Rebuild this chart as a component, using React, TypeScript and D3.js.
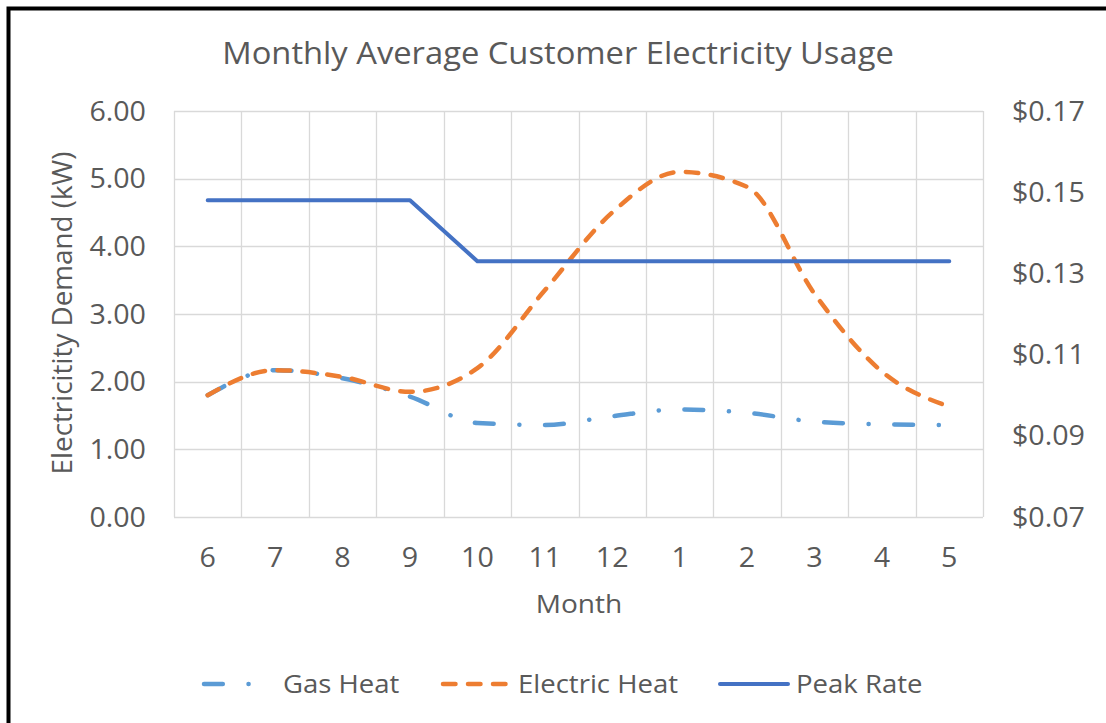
import React, { useEffect, useRef } from "react";
import * as d3 from "d3";

const W = 1106;
const H = 723;
const margin = { top: 111, right: 123, bottom: 206, left: 174 };

const months = ["6", "7", "8", "9", "10", "11", "12", "1", "2", "3", "4", "5"];
const gasHeat = [1.8, 2.17, 2.05, 1.78, 1.39, 1.36, 1.49, 1.59, 1.54, 1.41, 1.37, 1.36];
const electricHeat = [1.8, 2.17, 2.07, 1.85, 2.2, 3.35, 4.5, 5.1, 4.88, 3.3, 2.15, 1.63];
const peakRate = [0.148, 0.148, 0.148, 0.148, 0.133, 0.133, 0.133, 0.133, 0.133, 0.133, 0.133, 0.133];
const leftTicks = [0, 1, 2, 3, 4, 5, 6];
const rightTicks = [0.07, 0.09, 0.11, 0.13, 0.15, 0.17];

const FONT = "'Open Sans', sans-serif";
const TEXT = "#595959";
const GRID = "#D9D9D9";
const C_GAS = "#5B9BD5";
const C_ELEC = "#ED7D31";
const C_PEAK = "#4472C4";
const DASH_GAS = "18.8 25.7 0.1 25.6";
const DASH_ELEC = "12.5 12.5";
const SX = 1.08; // the source picture is a bit wider than tall

const App = () => {
  const svgRef = useRef<SVGSVGElement>(null);

  useEffect(() => {
    const svg = d3.select(svgRef.current);
    svg.selectAll("*").remove();

    const x = d3
      .scaleBand()
      .domain(months)
      .range([margin.left, W - margin.right]);
    const cx = (m: string) => (x(m) as number) + x.bandwidth() / 2;
    const y = d3.scaleLinear().domain([0, 6]).range([H - margin.bottom, margin.top]);
    const y2 = d3.scaleLinear().domain([0.07, 0.17]).range([H - margin.bottom, margin.top]);

    svg.append("rect").attr("width", W).attr("height", H).attr("fill", "#fff");

    // frame (only top and left show in the crop)
    svg
      .append("path")
      .attr("d", `M8.5,${H} V8.5 H${W}`)
      .attr("fill", "none")
      .attr("stroke", "#000")
      .attr("stroke-width", 4);

    // grid
    const grid = svg.append("g");
    grid
      .selectAll(".hg")
      .data(leftTicks)
      .enter()
      .append("line")
      .attr("x1", margin.left)
      .attr("x2", W - margin.right)
      .attr("y1", (d) => Math.round(y(d)) + 0.5)
      .attr("y2", (d) => Math.round(y(d)) + 0.5)
      .attr("stroke", GRID)
      .attr("stroke-width", 1.3);
    const edges = [...months.map((m) => x(m) as number), W - margin.right];
    grid
      .selectAll(".vg")
      .data(edges)
      .enter()
      .append("line")
      .attr("x1", (d) => Math.round(d) + 0.5)
      .attr("x2", (d) => Math.round(d) + 0.5)
      .attr("y1", margin.top)
      .attr("y2", H - margin.bottom)
      .attr("stroke", GRID)
      .attr("stroke-width", 1.3);

    // horizontal text helper, stretched a little in x
    const label = (g: any, tx: number, ty: number, size: number, anchor: string, txt: string) =>
      g
        .append("text")
        .attr("transform", `translate(${tx},${ty}) scale(${SX},1)`)
        .attr("dy", "0.36em")
        .attr("text-anchor", anchor)
        .attr("font-size", size)
        .text(txt);

    const labels = svg.append("g").attr("font-family", FONT).attr("fill", TEXT);
    leftTicks.forEach((d) => label(labels, 146, y(d), 26.5, "end", d3.format(".2f")(d)));
    rightTicks.forEach((d) => label(labels, 1012, y2(d), 26.5, "start", "$" + d3.format(".2f")(d)));
    months.forEach((d) => label(labels, cx(d), 557, 26.5, "middle", d));

    label(labels, 558, 53, 30.3, "middle", "Monthly Average Customer Electricity Usage");
    label(labels, 579, 604, 26, "middle", "Month");
    labels
      .append("text")
      .attr("transform", `translate(62,${(margin.top + H - margin.bottom) / 2 - 1}) rotate(-90)`)
      .attr("dy", "0.36em")
      .attr("text-anchor", "middle")
      .attr("font-size", 27.8)
      .text("Electricitity Demand (kW)");

    // series
    const smooth = d3
      .line<number>()
      .x((d, i) => cx(months[i]))
      .y((d) => y(d))
      .curve(d3.curveMonotoneX);
    const straight = d3
      .line<number>()
      .x((d, i) => cx(months[i]))
      .y((d) => y2(d));

    const series = svg
      .append("g")
      .attr("fill", "none")
      .attr("stroke-linecap", "round")
      .attr("stroke-linejoin", "round");
    series
      .append("path")
      .attr("d", smooth(gasHeat))
      .attr("stroke", C_GAS)
      .attr("stroke-width", 4.5)
      .attr("stroke-dasharray", DASH_GAS);
    series
      .append("path")
      .attr("d", smooth(electricHeat))
      .attr("stroke", C_ELEC)
      .attr("stroke-width", 4.5)
      .attr("stroke-dasharray", DASH_ELEC);
    series
      .append("path")
      .attr("d", straight(peakRate))
      .attr("stroke", C_PEAK)
      .attr("stroke-width", 4);

    // legend
    const legend = [
      { name: "Gas Heat", color: C_GAS, dash: DASH_GAS, x0: 204, x1: 253, tx: 283, w: 4.5 },
      { name: "Electric Heat", color: C_ELEC, dash: DASH_ELEC, x0: 443, x1: 511, tx: 518, w: 4.5 },
      { name: "Peak Rate", color: C_PEAK, dash: null, x0: 720, x1: 788, tx: 796, w: 4 },
    ];
    const lg = svg.append("g").attr("font-family", FONT).attr("fill", TEXT);
    legend.forEach((l) => {
      lg.append("line")
        .attr("x1", l.x0)
        .attr("x2", l.x1)
        .attr("y1", 684)
        .attr("y2", 684)
        .attr("stroke", l.color)
        .attr("stroke-width", l.w)
        .attr("stroke-linecap", "round")
        .attr("stroke-dasharray", l.dash);
      label(lg, l.tx, 684, 25.5, "start", l.name);
    });
  }, []);

  return (
    <div style={{ position: "fixed", left: 0, top: 0 }}>
      <svg ref={svgRef} width={W} height={H} style={{ display: "block" }} />
    </div>
  );
};

export default App;
